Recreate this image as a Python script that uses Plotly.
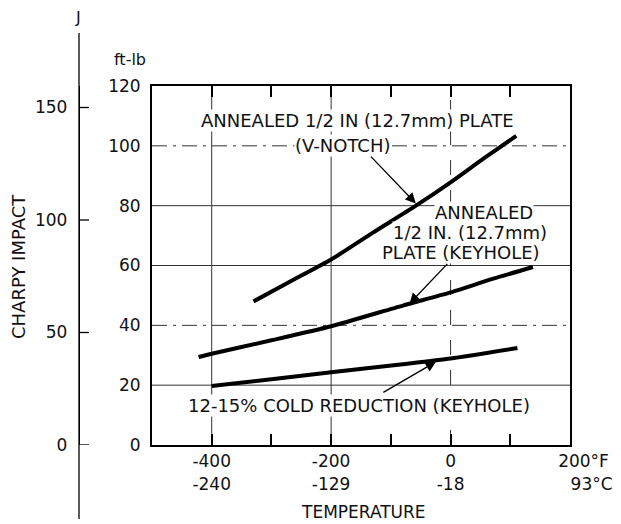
import plotly.graph_objects as go

# ---------------- data (temperature in °F, energy in ft-lb) ----------------
vnotch_T = [-330, -270, -200, -130, -58, 0, 55, 110]
vnotch_E = [48, 54.5, 62, 71, 80, 87.8, 95.7, 103.3]

keyhole_T = [-422, -400, -300, -200, -80, 0, 70, 138]
keyhole_E = [29.4, 30.5, 35, 39.7, 46.6, 51, 55.5, 59.5]

cold_T = [-400, -300, -200, -80, 0, 112]
cold_E = [19.7, 22, 24.3, 27, 28.9, 32.4]

x_tickvals = [-400, -300, -200, -100, 0, 100, 200]
x_ticktext_F = ["-400", "", "-200", "", "0", "", "200°F"]
x_ticktext_C = ["-240", "", "-129", "", "-18", "", "93°C"]

y_tickvals = [0, 20, 40, 60, 80, 100, 120]
j_tickvals = [0, 50, 100, 150]

y_grid = [20, 40, 60, 80, 100]
y_grid_dash = ["solid", "longdashdot", "solid", "solid", "longdashdot"]
x_grid = [-400, -200, 0]
x_grid_dash = ["solid", "solid", "longdash"]

FONT = "DejaVu Sans"
INK = "#111111"

# the page body adds an 8px offset; positions below are given in page pixels
OFF = 8
W, H = 621 - OFF, 524 - OFF
PL = 40 - OFF                                   # paper left edge (figure px)
L, R, T, B = 152 - OFF, 570 - OFF, 86 - OFF, 445 - OFF   # plot box (figure px)
def px(x):
    return (x - OFF - PL) / (R - PL)
def py(y):
    return (B - (y - OFF)) / (B - T)

fig = go.Figure()
for tx, ey in [(vnotch_T, vnotch_E), (keyhole_T, keyhole_E), (cold_T, cold_E)]:
    fig.add_trace(go.Scatter(x=tx, y=ey, mode="lines",
                             line=dict(color="black", width=4, shape="spline", smoothing=0.6),
                             showlegend=False, hoverinfo="skip"))
# joule axis (overlaying the ft-lb axis)
fig.add_trace(go.Scatter(x=[-500], y=[0], yaxis="y2", mode="markers", marker=dict(opacity=0),
                         showlegend=False, hoverinfo="skip"))

x_ticktext = [f"{a}<br>{b}" if a else "" for a, b in zip(x_ticktext_F, x_ticktext_C)]
x_ticktext[-1] = ("\u00a0\u00a0\u00a0\u00a0\u00a0" + x_ticktext_F[-1] + "<br>"
                  + "\u00a0\u00a0\u00a0\u00a0\u00a0\u00a0\u00a0\u00a0" + x_ticktext_C[-1])

J_PX = 2.25  # px per joule
fig.update_layout(
    width=W, height=H,
    margin=dict(l=PL, r=W - R, t=T, b=H - B, pad=0),
    paper_bgcolor="white", plot_bgcolor="white",
    font=dict(family=FONT, size=17, color=INK),
    xaxis=dict(domain=[px(152), 1], range=[-500, 200], tickvals=x_tickvals, ticktext=x_ticktext,
               ticks="inside", ticklen=11, tickwidth=1.5, tickcolor="black",
               showline=True, linewidth=2, linecolor="black", mirror="ticks",
               showgrid=False, zeroline=False, tickfont=dict(size=17), automargin=False),
    yaxis=dict(range=[0, 120], tickvals=y_tickvals,
               ticks="", showline=True, linewidth=2, linecolor="black", mirror=True,
               showgrid=False, zeroline=False, ticklabelstandoff=6, tickfont=dict(size=17),
               automargin=False),
    yaxis2=dict(overlaying="y", anchor="free", position=px(79), side="left",
                range=[0, (B - T) / J_PX], tickvals=j_tickvals,
                ticks="", showline=True, linewidth=1.3, linecolor="black", ticklabelstandoff=8,
                showgrid=False, zeroline=False, tickfont=dict(size=17), automargin=False),
)

shapes = []
for v, d in zip(y_grid, y_grid_dash):
    shapes.append(dict(type="line", xref="x domain", yref="y", x0=0, x1=1, y0=v, y1=v,
                       line=dict(color="#333333", width=1, dash=d), layer="below"))
for v, d in zip(x_grid, x_grid_dash):
    shapes.append(dict(type="line", xref="x", yref="y domain", x0=v, x1=v, y0=0, y1=1,
                       line=dict(color="#333333", width=1, dash=d), layer="below"))
# joule axis: short tick marks pointing right, and the axis line extended past the box
for v in j_tickvals:
    shapes.append(dict(type="line", xref="paper", yref="y2", x0=px(79), x1=px(89), y0=v, y1=v,
                       line=dict(color="black", width=1.3)))
shapes.append(dict(type="line", xref="paper", yref="paper", x0=px(79), x1=px(79),
                   y0=py(33), y1=py(519), line=dict(color="black", width=1.3)))
fig.update_layout(shapes=shapes)

def label(text, x, y, size=18, **kw):
    d = dict(text=text, x=px(x), y=py(y), xref="paper", yref="paper", showarrow=False,
             xanchor="center", yanchor="middle", font=dict(family=FONT, size=size, color=INK),
             borderpad=0)
    d.update(kw)
    fig.add_annotation(**d)

label("ANNEALED 1/2 IN (12.7mm) PLATE", 357, 120, bgcolor="white")
label("(V-NOTCH)", 342, 145, bgcolor="white")
label("ANNEALED", 484, 212, bgcolor="white")
label("1/2 IN. (12.7mm)", 470, 232, bgcolor="white")
label("PLATE (KEYHOLE)", 461, 252, bgcolor="white")
label("12-15% COLD REDUCTION (KEYHOLE)", 359, 405, bgcolor="white")
label("ft-lb", 130, 60, size=16)
label("J", 78, 18, size=16)
label("CHARPY IMPACT", 18, 267, textangle=-90)
label("TEMPERATURE", 363, 512, size=17)

# leader arrows pointing to the curves
for (xt, yt, ax, ay) in [(-57, 80.5, -47, -49), (-70, 47, 40, -42), (-23, 28, -55, 32)]:
    fig.add_annotation(x=xt, y=yt, xref="x", yref="y", ax=ax, ay=ay, text="", showarrow=True,
                       arrowhead=2, arrowsize=1.6, arrowwidth=1.3, arrowcolor="black", standoff=1)

fig.write_html("out.html")
